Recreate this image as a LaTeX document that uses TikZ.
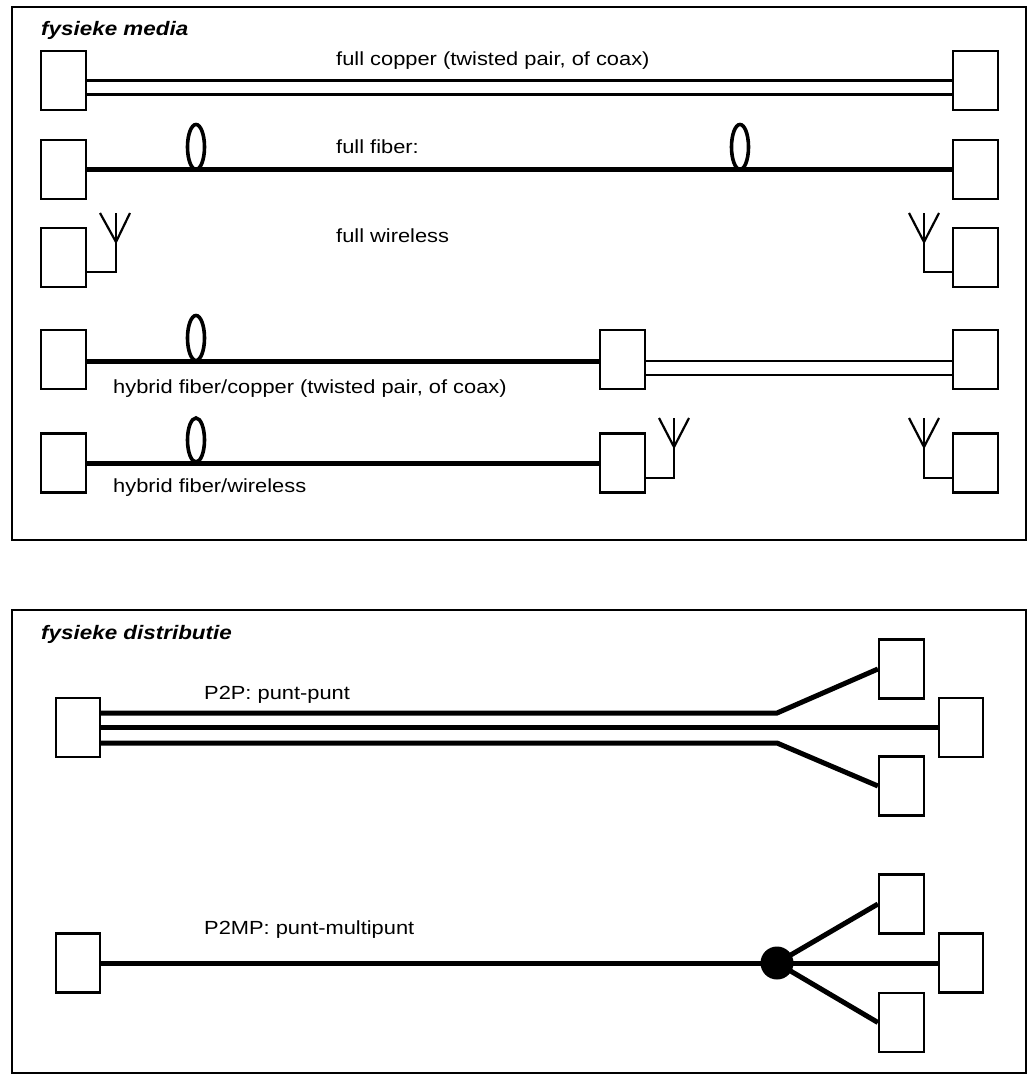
\documentclass[tikz,border=0pt]{standalone}
\usepackage{fontspec}
\setmainfont[FakeStretch=1.15]{Liberation Sans}
\begin{document}
\begin{tikzpicture}[x=1pt,y=-1pt,
  equip/.style={draw,line width=2.2pt,fill=white,minimum width=45pt,minimum height=59pt,inner sep=0pt},
  frame/.style={draw,line width=2.5pt},
  copper/.style={line width=2.2pt},
  fiber/.style={line width=5pt},
  loopc/.style={line width=3.6pt},
  ant/.style={line width=2.2pt},
  lbl/.style={anchor=base west,inner sep=0pt,font=\fontsize{19}{22}\selectfont},
  head/.style={anchor=base west,inner sep=0pt,font=\fontsize{19.5}{22}\selectfont\bfseries\itshape}]
\useasboundingbox (0,0) rectangle (1029,1075);
% frames
\draw[frame] (12,7) rectangle (1026,540);
\draw[frame] (12,610) rectangle (1026,1073);
% headings and labels
\node[head] (h1) at (41,36) {fysieke media};
\node[lbl] (t1) at (336,66) {full copper (twisted pair, of coax)};
\node[lbl] (t2) at (336,154) {full fiber:};
\node[lbl] (t3) at (336,243) {full wireless};
\node[lbl] (t4) at (113,393) {hybrid fiber/copper (twisted pair, of coax)};
\node[lbl] (t5) at (113,492) {hybrid fiber/wireless};
% row 1: copper
\node[equip] (L1) at (63.5,80.5) {};
\node[equip] (R1) at (975.5,80.5) {};
\draw[copper] (L1.east) -- (R1.west);
\draw[copper] ([yshift=-14pt]L1.east) -- ([yshift=-14pt]R1.west);
% row 2: fiber
\node[equip] (L2) at (63.5,169.5) {};
\node[equip] (R2) at (975.5,169.5) {};
\draw[fiber] (L2.east) -- (R2.west);
\draw[loopc] (196,147) ellipse [x radius=8.5pt,y radius=22.5pt];
\draw[loopc] (740,147) ellipse [x radius=8.5pt,y radius=22.5pt];
% row 3: wireless
\node[equip] (L3) at (63.5,257.5) {};
\node[equip] (R3) at (975.5,257.5) {};
\coordinate (a3l) at (116,272);
\coordinate (a3r) at (924,272);
\draw[ant] ([yshift=-14.5pt]L3.east) -- (a3l) -- (116,213);
\draw[ant] (100,213) -- (116,242) -- (130,213);
\draw[ant] ([yshift=-14.5pt]R3.west) -- (a3r) -- (924,213);
\draw[ant] (909,213) -- (924,242) -- (939,213);
% row 4: hybrid fiber/copper
\node[equip] (L4) at (63.5,359.5) {};
\node[equip] (M4) at (622.5,359.5) {};
\node[equip] (R4) at (975.5,359.5) {};
\draw[fiber] ([yshift=-1.5pt]L4.east) -- ([yshift=-1.5pt]M4.west);
\draw[loopc] (196,338) ellipse [x radius=8.5pt,y radius=22.5pt];
\draw[copper] ([yshift=-1.5pt]M4.east) -- ([yshift=-1.5pt]R4.west);
\draw[copper] ([yshift=-15.5pt]M4.east) -- ([yshift=-15.5pt]R4.west);
% row 5: hybrid fiber/wireless
\node[equip] (L5) at (63.5,463) {};
\node[equip] (M5) at (622.5,463) {};
\node[equip] (R5) at (975.5,463) {};
\draw[fiber] (L5.east) -- (M5.west);
\draw[loopc] (196,440) ellipse [x radius=8.5pt,y radius=22pt];
\coordinate (a5m) at (674,478);
\coordinate (a5r) at (924,478);
\draw[ant] ([yshift=-15pt]M5.east) -- (a5m) -- (674,418);
\draw[ant] (659,418) -- (674,447) -- (689,418);
\draw[ant] ([yshift=-15pt]R5.west) -- (a5r) -- (924,418);
\draw[ant] (909,418) -- (924,447) -- (939,418);
% bottom: distributie
\node[head] (h2) at (41,639) {fysieke distributie};
\node[lbl] (t6) at (204,699) {P2P: punt-punt};
\node[lbl] (t7) at (204,934) {P2MP: punt-multipunt};
% P2P
\node[equip,minimum width=44pt] (S) at (78,727.5) {};
\node[equip] (T) at (901.5,669) {};
\node[equip,minimum width=44pt] (Mb) at (961,727.5) {};
\node[equip] (B) at (901.5,786) {};
\coordinate (k1) at (777,713);
\coordinate (k2) at (777,743);
\draw[fiber] ([yshift=14.5pt]S.east) -- (k1) -- (T.west);
\draw[fiber] (S.east) -- (Mb.west);
\draw[fiber] ([yshift=-15.5pt]S.east) -- (k2) -- (B.west);
% P2MP
\node[equip,minimum width=44pt] (S2) at (78,963) {};
\node[equip] (T2) at (901.5,904) {};
\node[equip,minimum width=44pt] (M2) at (961,963) {};
\node[equip] (B2) at (901.5,1022.5) {};
\node[circle,fill=black,inner sep=0pt,minimum size=33pt] (sp) at (777,963) {};
\draw[fiber] (S2.east) -- (sp.center);
\draw[fiber] (sp.center) -- (T2.west);
\draw[fiber] (sp.center) -- (M2.west);
\draw[fiber] (sp.center) -- (B2.west);
\end{tikzpicture}
\end{document}
